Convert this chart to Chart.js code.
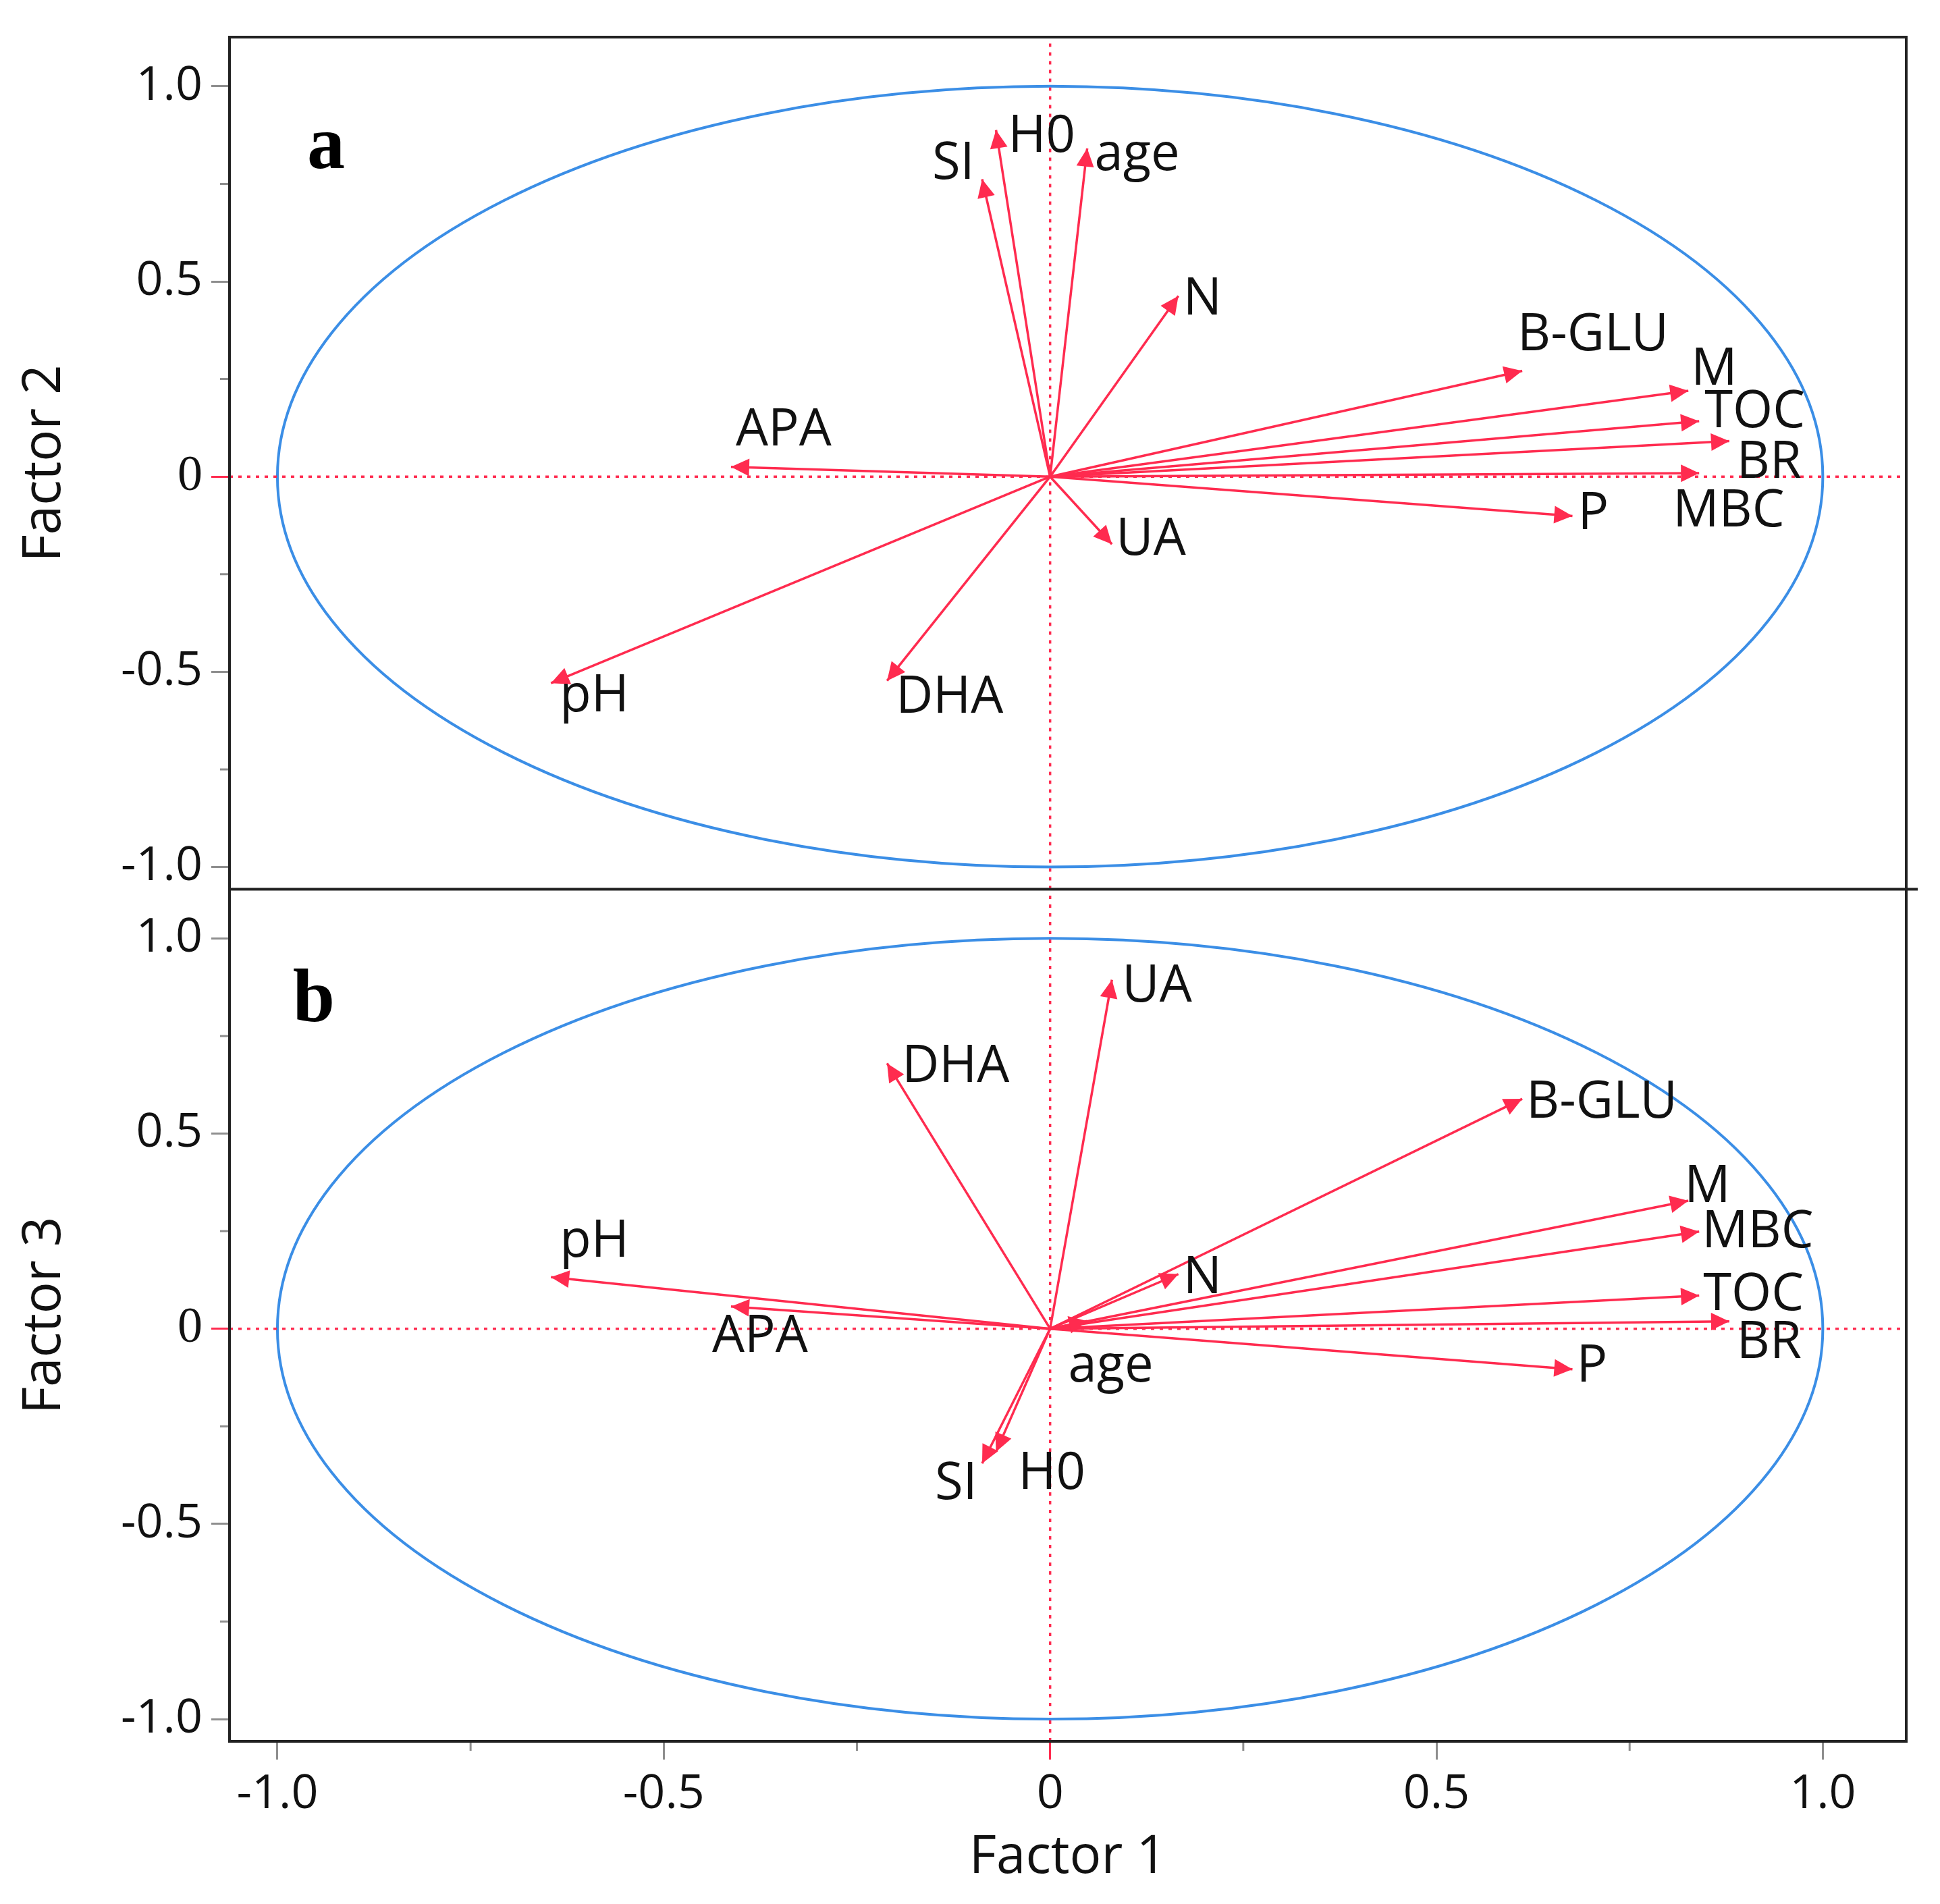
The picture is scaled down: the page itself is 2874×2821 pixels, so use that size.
<!DOCTYPE html>
<html>
<head>
<meta charset="utf-8">
<script src="https://cdn.jsdelivr.net/npm/chart.js@4.4.1/dist/chart.umd.min.js"></script>
<style>
	html, body { margin: 0; padding: 0; background: #fff; }
	#pca { display: block; }
</style>
</head>
<body>
<canvas id="pca" width="2874" height="2821"></canvas>
<script>
// loadings
const variables = ["SI", "H0", "age", "N", "B-GLU", "M", "TOC", "BR", "MBC", "P", "UA", "DHA", "pH", "APA"];
const factor1 = [-0.088, -0.070, 0.048, 0.166, 0.611, 0.826, 0.840, 0.879, 0.840, 0.676, 0.080, -0.211, -0.646, -0.413];
const factor2 = [0.762, 0.888, 0.841, 0.463, 0.271, 0.220, 0.142, 0.091, 0.009, -0.101, -0.173, -0.523, -0.529, 0.025];
const factor3 = [-0.345, -0.315, 0.020, 0.140, 0.589, 0.328, 0.085, 0.019, 0.249, -0.104, 0.894, 0.680, 0.132, 0.057];

const majorTicks = [-1, -0.5, 0, 0.5, 1];
const majorLabels = ["-1.0", "-0.5", "0", "0.5", "1.0"];
const minorTicks = [-0.75, -0.25, 0.25, 0.75];

// axis extents and label nudges (pixels) - layout only
const X_MIN = -1.062, X_MAX = 1.108;
const Y_MIN = -1.057, Y_MAX = 1.126;
const labelShift = {
	y2: {
		"SI": [-74, -22], "H0": [18, 11], "age": [11, 11], "N": [7, 6], "B-GLU": [-7, -52],
		"M": [4, -31], "TOC": [8, -13], "BR": [11, 33], "MBC": [-39, 57], "P": [8, -2],
		"UA": [6, -6], "DHA": [13, 26], "pH": [13, 20], "APA": [7, -53]
	},
	y3: {
		"SI": [-70, 31], "H0": [33, 33], "age": [-28, 68], "N": [7, 7], "B-GLU": [6, 6],
		"M": [-6, -20], "TOC": [6, 0], "BR": [11, 33], "MBC": [4, 2], "P": [6, -4],
		"UA": [15, 11], "DHA": [22, 6], "pH": [13, -52], "APA": [-28, 46]
	}
};

const RED = '#ff2b4f';
const BLUE = '#3b8ee6';
const SANS = 'Open Sans';

Chart.defaults.font.family = SANS;

function arrowSets(yVals, axis) {
	return variables.map((name, i) => ({
		label: name,
		data: [{x: 0, y: 0}, {x: factor1[i], y: yVals[i]}],
		yAxisID: axis,
		showLine: true,
		borderColor: RED,
		borderWidth: 3.5,
		pointRadius: 0,
		isArrow: true
	}));
}

function refLines(axis) {
	const dash = {yAxisID: axis, showLine: true, borderColor: RED, borderWidth: 3.5, borderDash: [5, 8], pointRadius: 0};
	return [
		Object.assign({label: 'h0', data: [{x: X_MIN, y: 0}, {x: X_MAX, y: 0}]}, dash),
		Object.assign({label: 'v0', data: [{x: 0, y: Y_MIN}, {x: 0, y: Y_MAX}]}, dash)
	];
}

const allTicks = majorTicks.concat(minorTicks).sort((a, b) => a - b);
const setTicks = scale => { scale.ticks = allTicks.map(v => ({value: v})); };
const tickLabel = v => {
	const k = majorTicks.indexOf(v);
	return k < 0 ? '' : majorLabels[k];
};
const tickColor = ctx => {
	const v = ctx.tick.value;
	if (v === 0) return RED;
	return minorTicks.includes(v) ? 'rgba(0,0,0,0)' : '#8e8e8e';
};

function yAxis(title) {
	return {
		type: 'linear',
		position: 'left',
		stack: 'pca',
		stackWeight: 1,
		min: Y_MIN,
		max: Y_MAX,
		afterBuildTicks: setTicks,
		afterFit: s => { s.width = 340; },
		ticks: {
			callback: tickLabel,
			autoSkip: false,
			color: '#111',
			padding: 13,
			font: ctx => (ctx.tick && ctx.tick.value === 0)
				? {family: 'Liberation Serif', size: 74}
				: {family: SANS, size: 70}
		},
		grid: {drawOnChartArea: false, drawTicks: true, tickLength: 27, tickWidth: 3, tickColor: tickColor},
		border: {display: false},
		title: {display: true, text: title, color: '#111', font: {family: SANS, size: 78}, padding: {top: 20, bottom: 0}}
	};
}

// ellipse, arrow heads, labels, frame
const pcaPlugin = {
	id: 'pcaDecor',
	beforeDraw(chart) {
		const ctx = chart.ctx;
		ctx.save();
		ctx.fillStyle = '#fff';
		ctx.fillRect(0, 0, chart.width, chart.height);
		ctx.restore();
	},
	beforeDatasetsDraw(chart) {
		const ctx = chart.ctx, xs = chart.scales.x;
		['y2', 'y3'].forEach(id => {
			const ys = chart.scales[id];
			const cx = xs.getPixelForValue(0), cy = ys.getPixelForValue(0);
			const rx = xs.getPixelForValue(1) - cx, ry = cy - ys.getPixelForValue(1);
			ctx.save();
			ctx.strokeStyle = BLUE;
			ctx.lineWidth = 4;
			ctx.beginPath();
			ctx.ellipse(cx, cy, rx, ry, 0, 0, Math.PI * 2);
			ctx.stroke();
			ctx.restore();
		});
	},
	afterDatasetsDraw(chart) {
		const ctx = chart.ctx, xs = chart.scales.x;
		ctx.save();
		chart.data.datasets.forEach(ds => {
			if (!ds.isArrow) return;
			const ys = chart.scales[ds.yAxisID];
			const x0 = xs.getPixelForValue(0), y0 = ys.getPixelForValue(0);
			const tip = ds.data[1];
			const x1 = xs.getPixelForValue(tip.x), y1 = ys.getPixelForValue(tip.y);
			const a = Math.atan2(y1 - y0, x1 - x0);
			ctx.save();
			ctx.translate(x1, y1);
			ctx.rotate(a);
			ctx.fillStyle = RED;
			ctx.beginPath();
			ctx.moveTo(0, 0);
			ctx.lineTo(-27, -13);
			ctx.lineTo(-27, 13);
			ctx.closePath();
			ctx.fill();
			ctx.restore();

			const off = labelShift[ds.yAxisID][ds.label];
			ctx.fillStyle = '#111';
			ctx.font = '76px "' + SANS + '"';
			ctx.textAlign = 'left';
			ctx.textBaseline = 'middle';
			ctx.fillText(ds.label, x1 + off[0], y1 + off[1]);
		});

		// panel letters
		ctx.font = 'bold 112px "Liberation Serif"';
		ctx.textAlign = 'center';
		ctx.textBaseline = 'middle';
		ctx.fillStyle = '#000';
		ctx.fillText('a', xs.getPixelForValue(-0.937), chart.scales.y2.getPixelForValue(0.84));
		ctx.fillText('b', xs.getPixelForValue(-0.953), chart.scales.y3.getPixelForValue(0.838));
		ctx.restore();
	},
	afterDraw(chart) {
		const ctx = chart.ctx;
		const {left, right, top, bottom} = chart.chartArea;
		const mid = chart.scales.y2.bottom;
		ctx.save();
		// minor ticks
		ctx.strokeStyle = '#8e8e8e';
		ctx.lineWidth = 3;
		ctx.beginPath();
		minorTicks.forEach(v => {
			['y2', 'y3'].forEach(id => {
				const py = chart.scales[id].getPixelForValue(v);
				ctx.moveTo(left, py);
				ctx.lineTo(left - 14, py);
			});
			const px = chart.scales.x.getPixelForValue(v);
			ctx.moveTo(px, bottom);
			ctx.lineTo(px, bottom + 14);
		});
		ctx.stroke();
		// frame
		ctx.strokeStyle = '#222';
		ctx.lineWidth = 4;
		ctx.strokeRect(left, top, right - left, bottom - top);
		ctx.beginPath();
		ctx.moveTo(left, mid);
		ctx.lineTo(right + 17, mid);
		ctx.stroke();
		ctx.restore();
	}
};

new Chart("pca", {
	type: "scatter",
	data: {
		datasets: refLines('y2').concat(refLines('y3'), arrowSets(factor2, 'y2'), arrowSets(factor3, 'y3'))
	},
	options: {
		responsive: false,
		devicePixelRatio: 1,
		animation: false,
		layout: {
			padding: {top: 38, right: 50, left: 0, bottom: 0}
		},
		scales: {
			x: {
				type: "linear",
				min: X_MIN,
				max: X_MAX,
				afterBuildTicks: setTicks,
				afterFit: s => { s.height = 241; },
				ticks: {
					callback: tickLabel,
					autoSkip: false,
					maxRotation: 0,
					color: '#111',
					padding: 10,
					font: {family: SANS, size: 70}
				},
				grid: {drawOnChartArea: false, drawTicks: true, tickLength: 27, tickWidth: 3, tickColor: tickColor},
				border: {display: false},
				title: {display: true, text: "Factor 1", color: '#111', font: {family: SANS, size: 78}, padding: {top: 0, bottom: 21}}
			},
			// stacked panels: listed bottom first so Factor 2 lands on top
			y3: yAxis("Factor 3"),
			y2: yAxis("Factor 2")
		},
		plugins: {
			legend: {display: false},
			tooltip: {enabled: false}
		}
	},
	plugins: [pcaPlugin]
});
</script>
</body>
</html>
